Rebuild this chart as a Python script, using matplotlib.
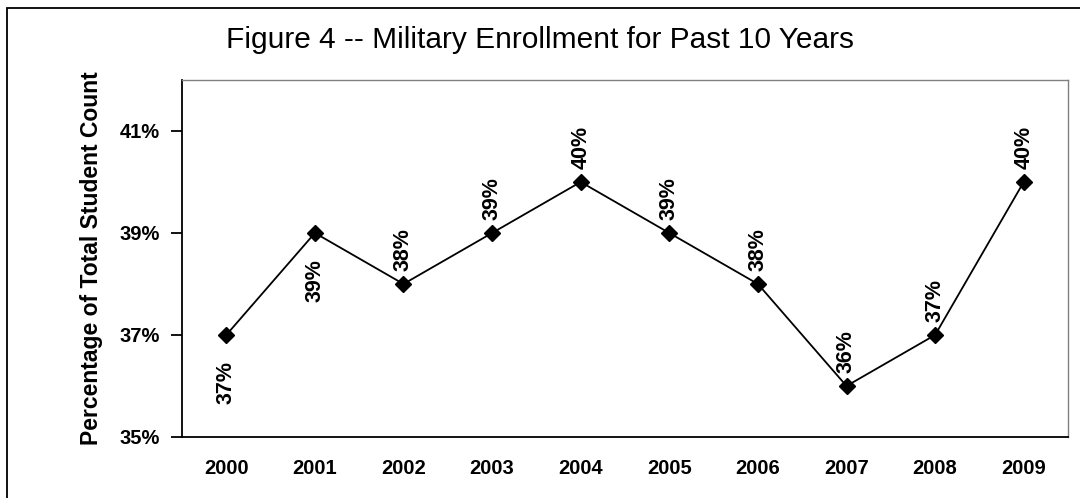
import matplotlib
matplotlib.use("Agg")
import matplotlib.pyplot as plt
from matplotlib.patches import Rectangle
from matplotlib.ticker import FuncFormatter

# data
years = ["2000", "2001", "2002", "2003", "2004", "2005", "2006", "2007", "2008", "2009"]
pct = [37, 39, 38, 39, 40, 39, 38, 36, 37, 40]
# label position: 1 = above the marker, -1 = below
label_side = [-1, -1, 1, 1, 1, 1, 1, 1, 1, 1]
yticks = [35, 37, 39, 41]

plt.rcParams['font.family'] = ['Liberation Sans', 'DejaVu Sans']

fig = plt.figure(figsize=(10.8, 4.98), dpi=100)
ax = fig.add_axes([0.1685, 0.1225, 0.8204, 0.7169])

x = list(range(len(years)))
ax.plot(x, pct, color="black", lw=1.3, marker="D", markersize=8.5)

for xi, v, side in zip(x, pct, label_side):
    if side > 0:
        ax.annotate(f"{v}%", (xi, v), xytext=(0, 13), textcoords="offset pixels",
                    rotation=90, ha="center", va="bottom", fontsize=15.5, fontweight="bold")
    else:
        ax.annotate(f"{v}%", (xi, v), xytext=(0, -26), textcoords="offset pixels",
                    rotation=90, ha="center", va="top", fontsize=15.5, fontweight="bold")

ax.set_xlim(-0.5, len(years) - 0.5)
ax.set_ylim(35, 42)
ax.set_xticks(x)
ax.set_xticklabels(years, fontsize=14.5, fontweight="bold")
ax.set_yticks(yticks)
ax.yaxis.set_major_formatter(FuncFormatter(lambda v, p: f"{v:.0f}%"))
for t in ax.get_yticklabels():
    t.set_fontweight("bold")
    t.set_fontsize(14.5)
ax.tick_params(axis="x", length=0, pad=16)
ax.tick_params(axis="y", length=8, width=1.3, direction="out", pad=8)

ax.spines["left"].set_linewidth(1.3)
ax.spines["bottom"].set_linewidth(1.3)
for s in ["top", "right"]:
    ax.spines[s].set_color("#808080")
    ax.spines[s].set_linewidth(1.0)

ax.set_ylabel("Percentage of Total Student Count", fontsize=16.5, fontweight="bold", labelpad=12)
fig.text(0.5, 0.92, "Figure 4 -- Military Enrollment for Past 10 Years",
         ha="center", va="center", fontsize=21.5)

# outer chart frame (right and bottom edges are cut off in the original)
fig.patches.append(Rectangle((0.0065, -0.1), 1.2, 1.084, transform=fig.transFigure,
                             fill=False, edgecolor="black", lw=1.3))

fig.savefig("out.png", dpi=100)
